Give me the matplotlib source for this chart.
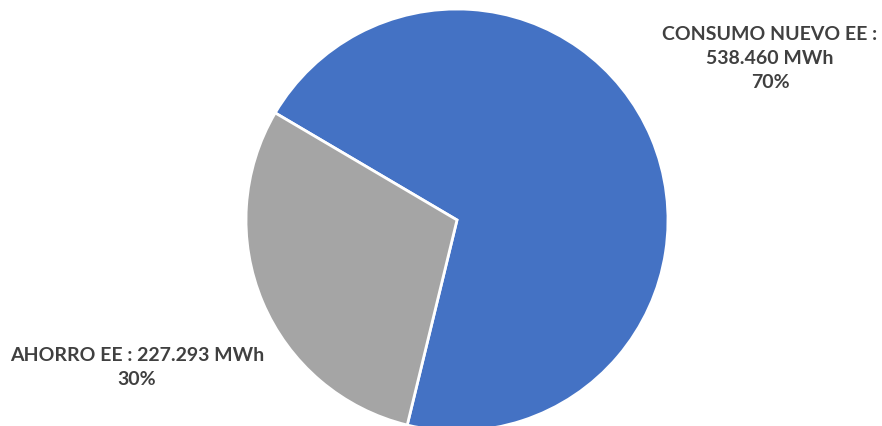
import matplotlib.pyplot as plt

labels = ["CONSUMO NUEVO EE", "AHORRO EE"]
values = [538.460, 227.293]
colors = ["#4472C4", "#A5A5A5"]

total = sum(values)
pcts = [v / total * 100 for v in values]

fig = plt.figure(figsize=(8.82, 4.27), dpi=100)
ax = fig.add_axes([0, 0, 1, 1])

ax.pie(
    values,
    colors=colors,
    startangle=149.5,
    counterclock=False,
    center=(457, 206),
    radius=211,
    frame=True,
    wedgeprops=dict(edgecolor="white", linewidth=2),
)
ax.set_xlim(0, 882)
ax.set_ylim(0, 427)
ax.set_aspect("equal")
ax.axis("off")

txt = dict(ha="center", va="center", fontsize=14, fontweight="bold",
           color="#404040", family="Lato", linespacing=1.5)

ax.text(770, 368, f"{labels[0]} :\n538.460 MWh\n{pcts[0]:.0f}%", **txt)
ax.text(137, 59, f"{labels[1]} : 227.293 MWh\n{pcts[1]:.0f}%", **txt)

fig.savefig("out.png", dpi=100)
